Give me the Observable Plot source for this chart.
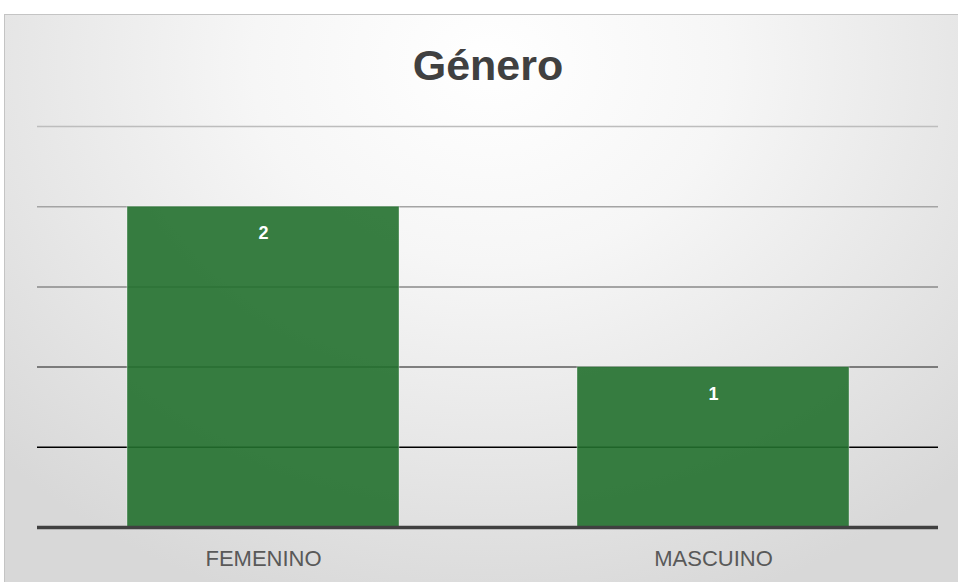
<!DOCTYPE html>
<html>
<head>
<meta charset="utf-8">
<script src="https://cdn.jsdelivr.net/npm/d3@7"></script>
<script src="https://cdn.jsdelivr.net/npm/@observablehq/plot@0.6"></script>
<style>
  html, body { margin: 0; padding: 0; background: #ffffff; }
  #wrap { position: relative; width: 958px; height: 582px; overflow: hidden; font-family: "Liberation Sans", Arial, sans-serif; }
  #frame { position: absolute; left: 4px; top: 14px; width: 970px; height: 600px; border: 1px solid #c4c4c4;
    background: radial-gradient(ellipse 70% 95% at 50% 8%, #ffffff 0%, #f6f6f6 35%, #e6e6e6 70%, #d8d8d8 100%); }
  #title { position: absolute; left: 0; width: 976px; top: 41px; text-align: center; font-size: 43px; font-weight: bold; color: #404040; }
  #chart { position: absolute; left: 0; top: 0; }
</style>
</head>
<body>
<div id="wrap">
  <div id="frame"></div>
  <div id="title">Género</div>
  <div id="chart"></div>
</div>
<script>
const categories = ["FEMENINO", "MASCUINO"];
const values = [2, 1];
const gridTicks = [0.5, 1, 1.5, 2, 2.5];

const data = categories.map((c, i) => ({category: c, value: values[i]}));
const gridColor = d3.scaleLinear().domain([0.5, 1, 1.5, 2, 2.5]).range(["#000000", "#5a5a5a", "#8a8a8a", "#a4a4a4", "#bdbdbd"]);

const plot = Plot.plot({
  width: 958,
  height: 582,
  marginTop: 126,
  marginBottom: 55,
  marginLeft: 37,
  marginRight: 20,
  style: {background: "transparent", fontFamily: "'Liberation Sans', Arial, sans-serif", overflow: "visible"},
  x: {domain: categories, paddingInner: 0.396, paddingOuter: 0.198, label: null},
  y: {domain: [0, 2.5], axis: null},
  marks: [
    Plot.ruleY(gridTicks, {y: d => d, stroke: d => gridColor(d), strokeWidth: 1.5}),
    Plot.barY(data, {x: "category", y: "value", fill: "#22702d", fillOpacity: 0.9, stroke: "#ffffff", strokeOpacity: 0.35, strokeWidth: 1}),
    Plot.ruleY([0], {stroke: "#404040", strokeWidth: 3.5}),
    Plot.text(data, {x: "category", y: "value", text: d => String(d.value), dy: 27, fill: "#ffffff", fontSize: 18, fontWeight: "bold"}),
    Plot.axisX({tickSize: 0, tickPadding: 23, fontSize: 22, color: "#595959", label: null})
  ]
});
plot.querySelectorAll('[aria-label="x-axis tick label"] text').forEach(t => t.setAttribute("fill", "#595959"));
document.getElementById("chart").appendChild(plot);
</script>
</body>
</html>
